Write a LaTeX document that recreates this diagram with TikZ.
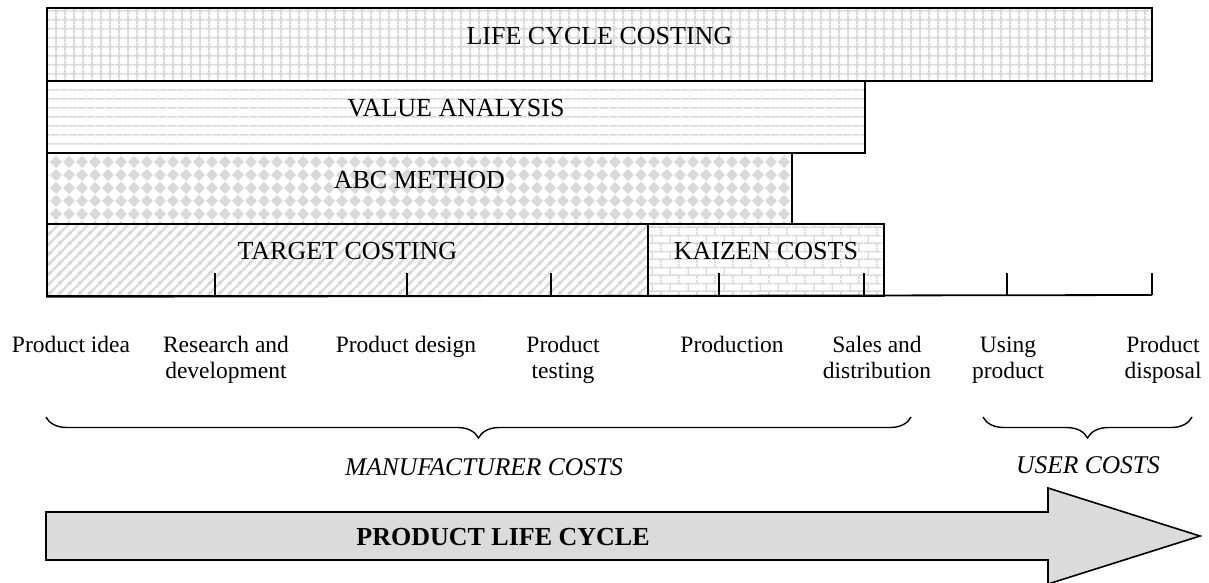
\documentclass[tikz,border=0pt]{standalone}
\usepackage{fontspec}
\setmainfont{Liberation Serif}
\usetikzlibrary{patterns.meta,decorations.pathreplacing}

\tikzdeclarepattern{
  name=smallgrid, type=uncolored,
  bounding box={(0pt,0pt) and (8.7pt,8.7pt)},
  tile size={(8.7pt,8.7pt)},
  code={\draw[line width=2pt] (0pt,4.35pt) -- (8.7pt,4.35pt) (4.35pt,0pt) -- (4.35pt,8.7pt);}
}
\tikzdeclarepattern{
  name=hstripes, type=uncolored,
  bounding box={(0pt,0pt) and (8.5pt,8.5pt)},
  tile size={(8.5pt,8.5pt)},
  code={\draw[line width=1.6pt] (0pt,4.25pt) -- (8.5pt,4.25pt);}
}
\tikzdeclarepattern{
  name=diamonds, type=uncolored,
  bounding box={(0pt,0pt) and (12.5pt,12.5pt)},
  tile size={(12.5pt,12.5pt)},
  code={\fill (6.25pt,0pt) -- (12.5pt,6.25pt) -- (6.25pt,12.5pt) -- (0pt,6.25pt) -- cycle;}
}
\tikzdeclarepattern{
  name=diagstripes, type=uncolored,
  bounding box={(0pt,0pt) and (10pt,10pt)},
  tile size={(10pt,10pt)},
  code={\draw[line width=2.5pt] (-2pt,-2pt) -- (12pt,12pt) (-2pt,8pt) -- (2pt,12pt) (8pt,-2pt) -- (12pt,2pt);}
}
\tikzdeclarepattern{
  name=bricks, type=uncolored,
  bounding box={(0pt,0pt) and (18pt,16pt)},
  tile size={(18pt,16pt)},
  code={\draw[line width=1.5pt] (0pt,4pt) -- (18pt,4pt) (0pt,12pt) -- (18pt,12pt)
          (4.5pt,4pt) -- (4.5pt,12pt) (13.5pt,12pt) -- (13.5pt,16pt) (13.5pt,0pt) -- (13.5pt,4pt);}
}

\begin{document}
\begin{tikzpicture}[x=1pt, y=-1pt]
    \tikzset{
      bar/.style={draw, line width=1.8pt, pattern color=black!15, anchor=north west,
        inner sep=0pt, text height=10pt, text depth=10pt, font=\fontsize{26}{30}\selectfont},
      rule/.style={line width=1.8pt},
      stage/.style={align=center, anchor=base, font=\fontsize{23.5}{26}\selectfont},
      brace/.style={decorate, decoration={brace, mirror, amplitude=21pt}, line width=1.4pt},
      costs/.style={anchor=base, font=\itshape\fontsize{25.5}{28}\selectfont}
    }
    \useasboundingbox (0,0) rectangle (1209,582);

    \node[bar, pattern=smallgrid, minimum width=1105, minimum height=73] (lcc) at (46,7) {LIFE CYCLE COSTING};
    \node[bar, pattern=hstripes, minimum width=818, minimum height=72] (va) at (46,80) {VALUE ANALYSIS};
    \node[bar, pattern=diamonds, minimum width=745, minimum height=71] (abc) at (46,152) {ABC METHOD};
    \node[bar, pattern=diagstripes, minimum width=601, minimum height=72] (tc) at (46,223) {TARGET COSTING};
    \node[bar, pattern=bricks, minimum width=236, minimum height=72] (kc) at (647,223) {KAIZEN COSTS};

    \coordinate (axisend) at (1152,295);
    \draw[rule] (tc.south west) -- (axisend);
    \foreach \x in {215,407,551,719,864,1007,1152}
      \draw[rule] (\x,273) -- (\x,295);

    % one-line labels sit on the first baseline, two-line ones on the second
    \node[stage] (idea) at (71,352) {Product idea};
    \node[stage] (rd) at (226,378) {Research and\\development};
    \node[stage] (design) at (406,352) {Product design};
    \node[stage] (testing) at (563,378) {Product\\testing};
    \node[stage] (prod) at (732,352) {Production};
    \node[stage] (sales) at (877,378) {Sales and\\distribution};
    \node[stage] (using) at (1008,378) {Using\\product};
    \node[stage] (disposal) at (1163,378) {Product\\disposal};

    \coordinate (mfl) at (46,417);
    \coordinate (mfr) at (911,417);
    \coordinate (usl) at (983,417);
    \coordinate (usr) at (1192,417);
    \draw[brace] (mfl) -- (mfr);
    \draw[brace] (usl) -- (usr);
    \node[costs] (mc) at (484,475) {MANUFACTURER COSTS};
    \node[costs] (uc) at (1088,473) {USER COSTS};

    \draw[line width=1.6pt, fill=black!14] (46,512) -- (1048,512) -- (1048,488) -- (1200,536)
      -- (1048,584) -- (1048,560) -- (46,560) -- cycle;
    \node[anchor=base, font=\bfseries\fontsize{26}{30}\selectfont] (plc) at (503,545) {PRODUCT LIFE CYCLE};
\end{tikzpicture}
\end{document}
